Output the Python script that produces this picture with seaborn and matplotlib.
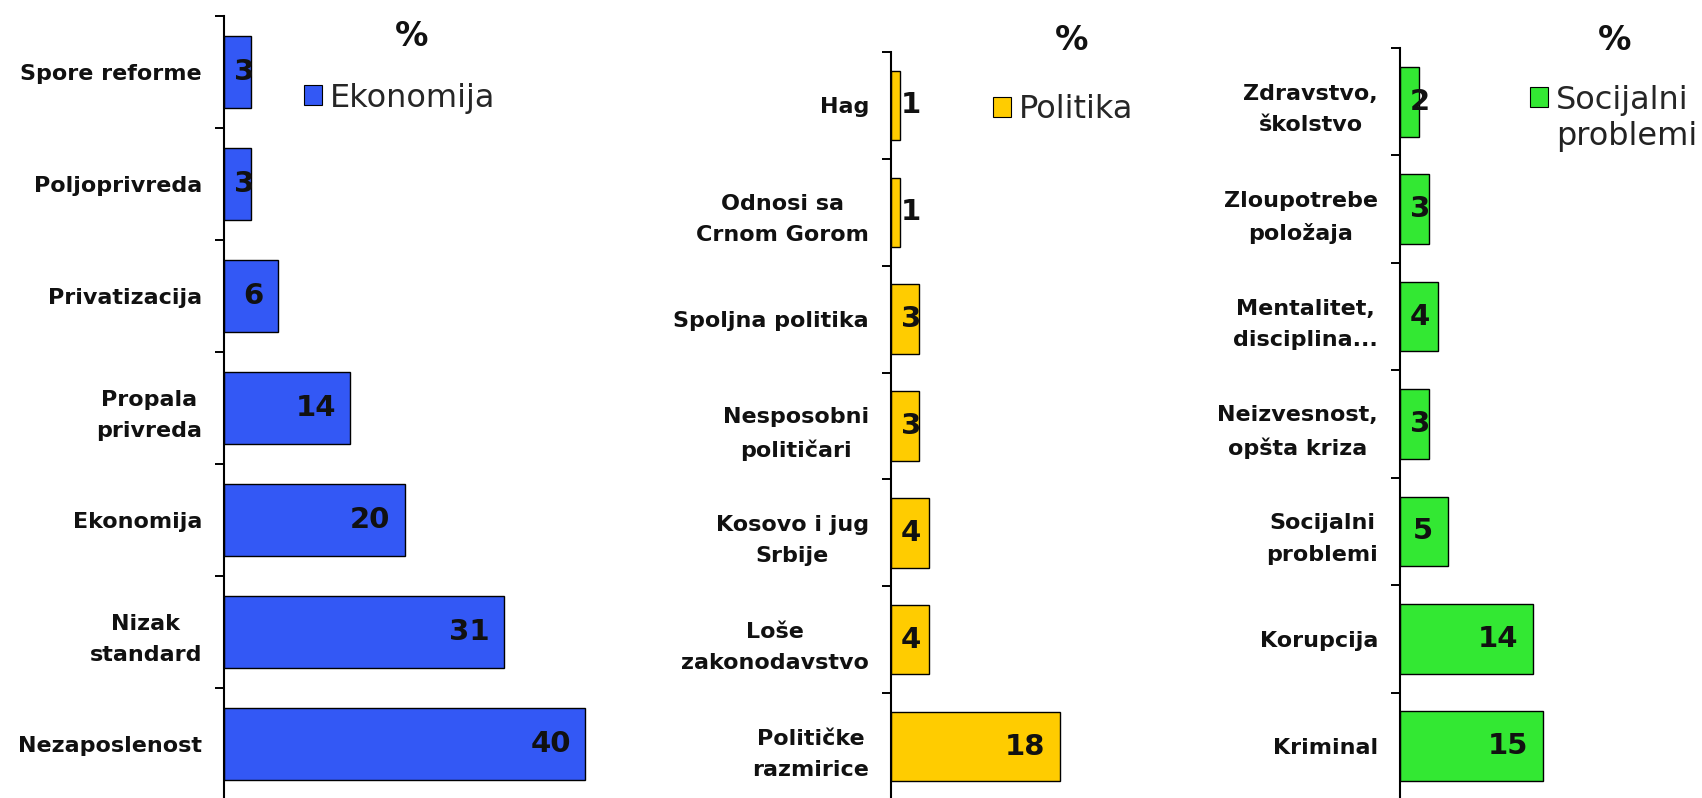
import numpy as np
import pandas as pd
import matplotlib
matplotlib.use("Agg")
import matplotlib.pyplot as plt
from matplotlib.patches import Patch
import seaborn as sns

sns.set_theme(style="white")
plt.rcParams['font.family'] = ['DejaVu Sans']

# Podaci (procenti) za tri grupe problema
eko_labels = ["Spore reforme", "Poljoprivreda", "Privatizacija", "Propala\nprivreda",
              "Ekonomija", "Nizak\nstandard", "Nezaposlenost"]
eko_values = [3, 3, 6, 14, 20, 31, 40]

pol_labels = ["Hag", "Odnosi sa\nCrnom Gorom", "Spoljna politika", "Nesposobni\npolitičari",
              "Kosovo i jug\nSrbije", "Loše\nzakonodavstvo", "Političke\nrazmirice"]
pol_values = [1, 1, 3, 3, 4, 4, 18]

soc_labels = ["Zdravstvo,\nškolstvo", "Zloupotrebe\npoložaja", "Mentalitet,\ndisciplina...",
              "Neizvesnost,\nopšta kriza", "Socijalni\nproblemi", "Korupcija", "Kriminal"]
soc_values = [2, 3, 4, 3, 5, 14, 15]

group_names = ["Ekonomija", "Politika", "Socijalni"]
colors = ["#3358f5", "#ffcc00", "#33e833"]

W, H = 1702, 798
fig = plt.figure(figsize=(W / 100, H / 100), dpi=100)
fig.patch.set_facecolor("white")

# (lijevo px, vrh px, dno px, xmax, px po jedinici)
panels = [
    (eko_labels, eko_values, 224, 16, 800, 42, 9.03),
    (pol_labels, pol_values, 891, 52, 800, 20, 9.4),
    (soc_labels, soc_values, 1400, 48, 800, 17, 9.5),
]

PX = 0.72  # piksel -> tacka (dpi 100)
for (labels, values, left, top, bottom, xmax, scale), color in zip(panels, colors):
    ax = fig.add_axes([left / W, 1 - bottom / H, xmax * scale / W, (bottom - top) / H])
    df = pd.DataFrame({"kategorija": labels, "procenat": values})
    sns.barplot(data=df, x="procenat", y="kategorija", color=color, width=0.65,
                edgecolor="black", linewidth=1.0, saturation=1, ax=ax)
    n = len(labels)
    ax.set_xlim(0, xmax)
    ax.set_ylim(n - 0.5, -0.5)
    ax.set_xlabel("")
    ax.set_ylabel("")
    ax.set_xticks([])
    ax.set_facecolor("none")
    for s in ["top", "right", "bottom"]:
        ax.spines[s].set_visible(False)
    ax.spines["left"].set_color("black")
    ax.spines["left"].set_linewidth(1.5)
    ax.set_yticks(range(n))
    ax.set_yticklabels(labels, fontsize=16, fontweight="bold", multialignment="center",
                       linespacing=1.7, color="#111111")
    ax.set_yticks(np.arange(-0.5, n, 1), minor=True)
    ax.tick_params(axis="y", which="major", length=0, pad=22 * PX)
    ax.tick_params(axis="y", which="minor", length=9 * PX, width=1.4, direction="out",
                   color="black", left=True)

    # vrijednosti na stupcima (unutar kraja stupca, ali ne lijevo od ose)
    for i, v in enumerate(values):
        text_w = 20.5 * len(str(v))
        x_left = max(10, v * scale - 14 - text_w)
        ax.annotate(str(v), xy=(0, i), xytext=(x_left * PX, 0), textcoords="offset points",
                    ha="left", va="center", fontsize=21, fontweight="bold", color="#111111")

# legende i oznaka procenta
legend_pos = [(304, 98), (993, 110), (1530, 100)]
pct_pos = [(412, 36), (1072, 40), (1615, 41)]
legends = []
for name, color, (lx, ly), (px, py) in zip(group_names, colors, legend_pos, pct_pos):
    fig.text(px / W, 1 - py / H, "%", ha="center", va="center", fontsize=24,
             fontweight="bold", color="#111111")
    leg = fig.legend(handles=[Patch(facecolor=color, edgecolor="black", linewidth=0.8)],
                     labels=[name], loc="center left", bbox_to_anchor=(lx / W, 1 - ly / H),
                     frameon=False, fontsize=23, handlelength=0.56, handleheight=0.56,
                     handletextpad=0.25, borderpad=0, borderaxespad=0)
    legends.append(leg)

fig.canvas.draw()
bb = legends[2].get_texts()[0].get_window_extent()
fig.text(bb.x0 / W, 1 - 137 / H, "problemi", ha="left", va="center", fontsize=23,
         color="#222222")

fig.savefig("out.png", dpi=100, facecolor="white")
